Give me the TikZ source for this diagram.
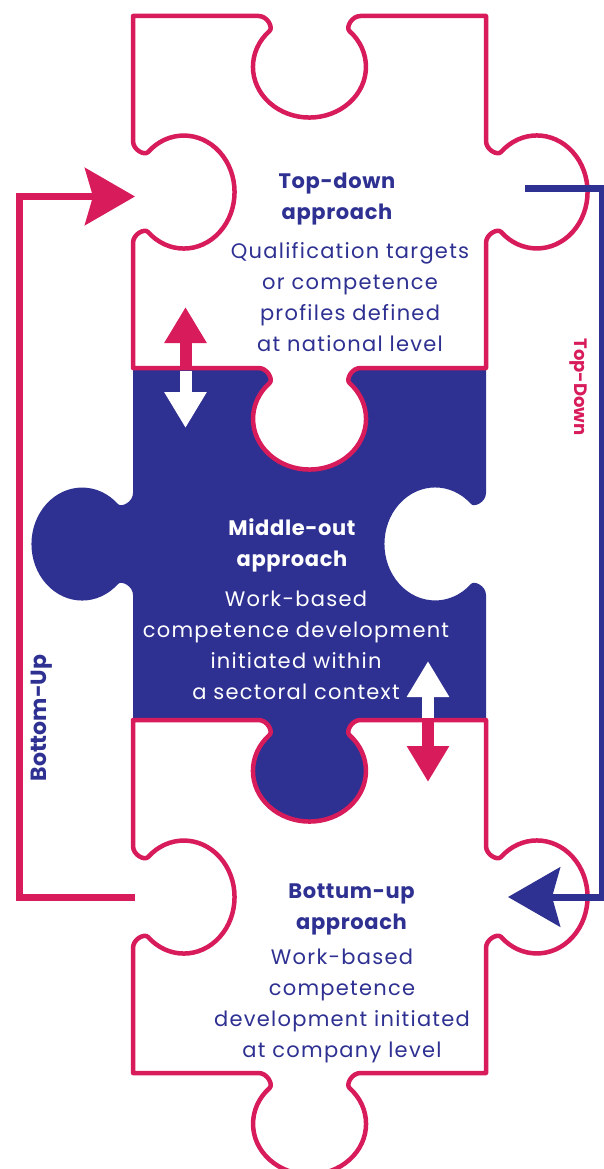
\documentclass[tikz,border=0pt]{standalone}
\usepackage{fontspec}
\setmainfont{Poppins}
\usetikzlibrary{arrows.meta}
\definecolor{pzred}{RGB}{216,27,90}
\definecolor{pzblue}{RGB}{46,49,146}
% puzzle bump segments (pixel coordinates, y downward)
\newcommand\hbLR[2]{-- (#1-51,#2) .. controls (#1-42,#2) and (#1-36.2,#2+11.6) .. (#1-40,#2+15) arc[start angle=225,end angle=-45,x radius=56.5,y radius=50.7] .. controls (#1+36.2,#2+11.6) and (#1+42,#2) .. (#1+51,#2)}
\newcommand\hbRL[2]{-- (#1+51,#2) .. controls (#1+42,#2) and (#1+36.2,#2+11.6) .. (#1+40,#2+15) arc[start angle=-45,end angle=225,x radius=56.5,y radius=50.7] .. controls (#1-36.2,#2+11.6) and (#1-42,#2) .. (#1-51,#2)}
\newcommand\vbRD[2]{-- (#1,#2-51) .. controls (#1,#2-42) and (#1+11.6,#2-36.2) .. (#1+15,#2-40) arc[start angle=225,end angle=495,x radius=50.7,y radius=56.5] .. controls (#1+11.6,#2+36.2) and (#1,#2+42) .. (#1,#2+51)}
\newcommand\vbRU[2]{-- (#1,#2+51) .. controls (#1,#2+42) and (#1+11.6,#2+36.2) .. (#1+15,#2+40) arc[start angle=135,end angle=-135,x radius=50.7,y radius=56.5] .. controls (#1+11.6,#2-36.2) and (#1,#2-42) .. (#1,#2-51)}
\newcommand\vbLD[2]{-- (#1,#2-51) .. controls (#1,#2-42) and (#1-11.6,#2-36.2) .. (#1-15,#2-40) arc[start angle=-45,end angle=-315,x radius=50.7,y radius=56.5] .. controls (#1-11.6,#2+36.2) and (#1,#2+42) .. (#1,#2+51)}
\newcommand\vbLU[2]{-- (#1,#2+51) .. controls (#1,#2+42) and (#1-11.6,#2+36.2) .. (#1-15,#2+40) arc[start angle=45,end angle=315,x radius=50.7,y radius=56.5] .. controls (#1-11.6,#2-36.2) and (#1,#2-42) .. (#1,#2-51)}
\tikzset{
  piece/.style={fill=white, draw=pzred, line width=4.5pt, line join=round},
  midpiece/.style={fill=pzblue},
  redconn/.style={draw=pzred, line width=7pt, -{Stealth[length=50pt,width=57pt,inset=8pt]}},
  blueconn/.style={draw=pzblue, line width=7pt, -{Stealth[length=52pt,width=59pt,inset=8pt]}},
  dblarrow/.style={line width=12pt, -{Triangle[length=36pt,width=40pt]}},
  ttl/.style={font=\bfseries\fontsize{21}{31}\selectfont\addfontfeature{LetterSpace=3}, align=center, inner sep=0pt},
  bdy/.style={font=\fontsize{21}{31}\selectfont\addfontfeature{LetterSpace=6}, align=center, inner sep=0pt},
  side/.style={font=\bfseries\fontsize{18}{20}\selectfont, inner sep=0pt}
}
\begin{document}
\begin{tikzpicture}[x=1pt,y=-1pt]
\useasboundingbox (0,0) rectangle (604,1169);
\fill[white] (0,0) rectangle (604,1169);
\clip (0,0) rectangle (604,1169);
% middle piece
\path[midpiece] (133,368) \hbLR{309.5}{368} -- (486,368) \vbLD{486}{544} -- (486,720) \hbRL{309.5}{720} -- (133,720) \vbLU{133}{544} -- cycle;
% top piece
\path[piece] (133,16) \hbLR{309.5}{16} -- (486,16) \vbRD{486}{192} -- (486,368) \hbRL{309.5}{368} -- (133,368) \vbRU{133}{192} -- cycle;
% bottom piece
\path[piece] (133,720) \hbLR{309.5}{720} -- (486,720) \vbRD{486}{897} -- (486,1073) \hbRL{309.5}{1073} -- (133,1073) \vbRU{133}{897} -- cycle;
% texts
\node[ttl, text=pzblue] (toptitle) at (337,199) {Top-down\\approach};
\node[bdy, text=pzblue] (topbody) at (350,297) {Qualification targets\\or competence\\profiles defined\\at national level};
\node[ttl, text=white] (midtitle) at (292,545) {Middle-out\\approach};
\node[bdy, text=white] (midbody) at (296,645) {Work-based\\competence development\\initiated within\\a sectoral context};
\node[ttl, text=pzblue] (bottitle) at (351.5,909) {Bottum-up\\approach};
\node[bdy, text=pzblue] (botbody) at (342,1006) {Work-based\\competence\\development initiated\\at company level};
\node[side, text=pzred, rotate=-90] (tdlabel) at (578,387) {Top-Down};
\node[side, text=pzblue, rotate=90, font=\bfseries\fontsize{22}{24}\selectfont] (bulabel) at (41.5,718) {Bottom-Up};
% connectors
\coordinate (buS) at (135,897.5);
\coordinate (buE) at (135,196.5);
\coordinate (buL) at (19,500);
\draw[redconn] (buS) -- (buS -| buL) -- (buE -| buL) -- (buE);
\coordinate (tdS) at (525,188.5);
\coordinate (tdE) at (508,897);
\coordinate (tdR) at (602.5,500);
\draw[blueconn] (tdS) -- (tdS -| tdR) -- (tdE -| tdR) -- (tdE);
% double arrows
\coordinate (ta) at (185.5,368);
\coordinate (taw) at (185.5,370.5);
\coordinate (tau) at (185.5,307);
\coordinate (tad) at (185.5,428);
\draw[dblarrow, pzred] (ta) -- (tau);
\draw[dblarrow, white] (taw) -- (tad);
\coordinate (ba) at (428,720);
\coordinate (baw) at (428,717.5);
\coordinate (bau) at (428,661);
\coordinate (bad) at (428,782);
\draw[dblarrow, white] (baw) -- (bau);
\draw[dblarrow, pzred] (ba) -- (bad);
\end{tikzpicture}
\end{document}
